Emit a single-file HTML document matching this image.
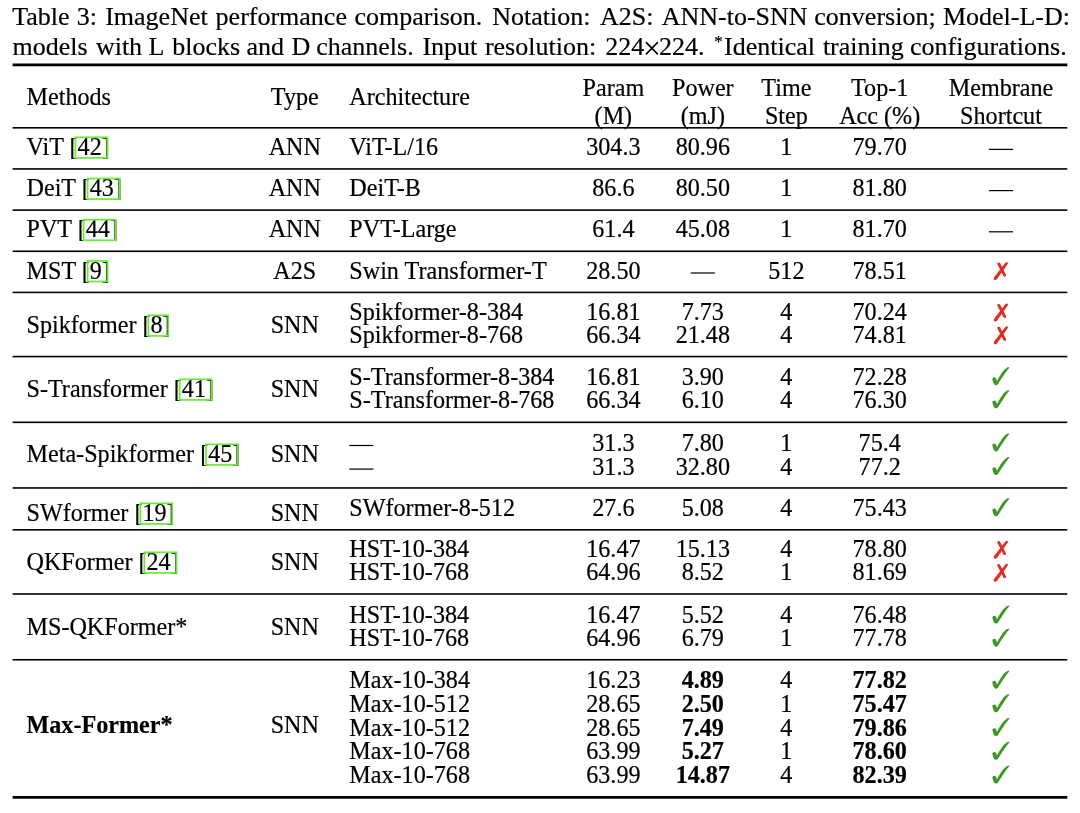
<!DOCTYPE html>
<html><head><meta charset="utf-8"><title>Table 3</title>
<style>
html,body{margin:0;padding:0;background:#fff;}
body{width:1080px;height:813px;position:relative;overflow:hidden;font-family:"Liberation Serif",serif;color:#000;}
.t{position:absolute;white-space:pre;-webkit-text-stroke:0.2px #000;}
.a{font-size:24.15px;line-height:27px;}
.b{font-size:26px;line-height:29px;}
.s{font-size:17px;line-height:19px;}
.m{transform:translateX(-50%);}
.w{font-weight:bold;}
#tx{position:absolute;left:0;top:0;width:1080px;height:813px;will-change:transform;}
#ov{position:absolute;left:0;top:0;}
</style></head><body>
<div id="tx"><span class="t b" style="left:12.20px;top:2px;">Table</span>
<span class="t b" style="left:76.70px;top:2px;">3:</span>
<span class="t b" style="left:105.20px;top:2px;">ImageNet</span>
<span class="t b" style="left:215.60px;top:2px;">performance</span>
<span class="t b" style="left:354.50px;top:2px;">comparison.</span>
<span class="t b" style="left:492.30px;top:2px;">Notation:</span>
<span class="t b" style="left:600.10px;top:2px;">A2S:</span>
<span class="t b" style="left:661.70px;top:2px;">ANN-to-SNN</span>
<span class="t b" style="left:814.30px;top:2px;">conversion;</span>
<span class="t b" style="left:942.90px;top:2px;">Model-L-D:</span>
<span class="t b" style="left:12.50px;top:32px;">models</span>
<span class="t b" style="left:95.90px;top:32px;">with</span>
<span class="t b" style="left:148.50px;top:32px;">L</span>
<span class="t b" style="left:172.30px;top:32px;">blocks</span>
<span class="t b" style="left:246.50px;top:32px;">and</span>
<span class="t b" style="left:291.60px;top:32px;">D</span>
<span class="t b" style="left:316.20px;top:32px;">channels.</span>
<span class="t b" style="left:422.40px;top:32px;">Input</span>
<span class="t b" style="left:484.90px;top:32px;">resolution:</span>
<span class="t b" style="left:605.20px;top:32px;">224</span>
<span class="t b" style="left:659.10px;top:32px;">224.</span>
<span class="t b" style="left:724.00px;top:32px;">Identical</span>
<span class="t b" style="left:822.90px;top:32px;">training</span>
<span class="t b" style="left:910.00px;top:32px;">configurations.</span>
<span class="t s" style="left:714.20px;top:32px;">*</span>
<span class="t a" style="left:26.50px;top:83px;">Methods</span>
<span class="t a m" style="left:294.80px;top:83px;">Type</span>
<span class="t a" style="left:349.30px;top:83px;">Architecture</span>
<span class="t a m" style="left:613.40px;top:74px;">Param</span>
<span class="t a m" style="left:613.40px;top:102px;">(M)</span>
<span class="t a m" style="left:702.80px;top:74px;">Power</span>
<span class="t a m" style="left:702.80px;top:102px;">(mJ)</span>
<span class="t a m" style="left:786.40px;top:74px;">Time</span>
<span class="t a m" style="left:786.40px;top:102px;">Step</span>
<span class="t a m" style="left:879.70px;top:74px;">Top-1</span>
<span class="t a m" style="left:879.70px;top:102px;">Acc (%)</span>
<span class="t a m" style="left:1001.00px;top:74px;">Membrane</span>
<span class="t a m" style="left:1001.00px;top:102px;">Shortcut</span>
<span class="t a" style="left:26.50px;top:133px;">ViT [<span id="c1">42</span>]</span>
<span class="t a m" style="left:294.80px;top:133px;">ANN</span>
<span class="t a" style="left:349.30px;top:133px;">ViT-L/16</span>
<span class="t a m" style="left:613.40px;top:133px;">304.3</span>
<span class="t a m" style="left:702.80px;top:133px;">80.96</span>
<span class="t a m" style="left:786.40px;top:133px;">1</span>
<span class="t a m" style="left:879.70px;top:133px;">79.70</span>
<span class="t a" style="left:26.50px;top:174px;">DeiT [<span id="c2">43</span>]</span>
<span class="t a m" style="left:294.80px;top:174px;">ANN</span>
<span class="t a" style="left:349.30px;top:174px;">DeiT-B</span>
<span class="t a m" style="left:613.40px;top:174px;">86.6</span>
<span class="t a m" style="left:702.80px;top:174px;">80.50</span>
<span class="t a m" style="left:786.40px;top:174px;">1</span>
<span class="t a m" style="left:879.70px;top:174px;">81.80</span>
<span class="t a" style="left:26.50px;top:215px;">PVT [<span id="c3">44</span>]</span>
<span class="t a m" style="left:294.80px;top:215px;">ANN</span>
<span class="t a" style="left:349.30px;top:215px;">PVT-Large</span>
<span class="t a m" style="left:613.40px;top:215px;">61.4</span>
<span class="t a m" style="left:702.80px;top:215px;">45.08</span>
<span class="t a m" style="left:786.40px;top:215px;">1</span>
<span class="t a m" style="left:879.70px;top:215px;">81.70</span>
<span class="t a" style="left:26.50px;top:257px;">MST [<span id="c4">9</span>]</span>
<span class="t a m" style="left:294.80px;top:257px;">A2S</span>
<span class="t a" style="left:349.30px;top:257px;">Swin Transformer-T</span>
<span class="t a m" style="left:613.40px;top:257px;">28.50</span>
<span class="t a m" style="left:786.40px;top:257px;">512</span>
<span class="t a m" style="left:879.70px;top:257px;">78.51</span>
<span class="t a" style="left:26.50px;top:311px;">Spikformer [<span id="c5">8</span>]</span>
<span class="t a m" style="left:294.80px;top:311px;">SNN</span>
<span class="t a" style="left:349.30px;top:298px;">Spikformer-8-384</span>
<span class="t a m" style="left:613.40px;top:298px;">16.81</span>
<span class="t a m" style="left:702.80px;top:298px;">7.73</span>
<span class="t a m" style="left:786.40px;top:298px;">4</span>
<span class="t a m" style="left:879.70px;top:298px;">70.24</span>
<span class="t a" style="left:349.30px;top:321px;">Spikformer-8-768</span>
<span class="t a m" style="left:613.40px;top:321px;">66.34</span>
<span class="t a m" style="left:702.80px;top:321px;">21.48</span>
<span class="t a m" style="left:786.40px;top:321px;">4</span>
<span class="t a m" style="left:879.70px;top:321px;">74.81</span>
<span class="t a" style="left:26.50px;top:375px;">S-Transformer [<span id="c6">41</span>]</span>
<span class="t a m" style="left:294.80px;top:375px;">SNN</span>
<span class="t a" style="left:349.30px;top:363px;">S-Transformer-8-384</span>
<span class="t a m" style="left:613.40px;top:363px;">16.81</span>
<span class="t a m" style="left:702.80px;top:363px;">3.90</span>
<span class="t a m" style="left:786.40px;top:363px;">4</span>
<span class="t a m" style="left:879.70px;top:363px;">72.28</span>
<span class="t a" style="left:349.30px;top:386px;">S-Transformer-8-768</span>
<span class="t a m" style="left:613.40px;top:386px;">66.34</span>
<span class="t a m" style="left:702.80px;top:386px;">6.10</span>
<span class="t a m" style="left:786.40px;top:386px;">4</span>
<span class="t a m" style="left:879.70px;top:386px;">76.30</span>
<span class="t a" style="left:26.50px;top:440px;">Meta-Spikformer [<span id="c7">45</span>]</span>
<span class="t a m" style="left:294.80px;top:440px;">SNN</span>
<span class="t a m" style="left:613.40px;top:429px;">31.3</span>
<span class="t a m" style="left:702.80px;top:429px;">7.80</span>
<span class="t a m" style="left:786.40px;top:429px;">1</span>
<span class="t a m" style="left:879.70px;top:429px;">75.4</span>
<span class="t a m" style="left:613.40px;top:453px;">31.3</span>
<span class="t a m" style="left:702.80px;top:453px;">32.80</span>
<span class="t a m" style="left:786.40px;top:453px;">4</span>
<span class="t a m" style="left:879.70px;top:453px;">77.2</span>
<span class="t a" style="left:26.50px;top:499px;">SWformer [<span id="c8">19</span>]</span>
<span class="t a m" style="left:294.80px;top:499px;">SNN</span>
<span class="t a" style="left:349.30px;top:494px;">SWformer-8-512</span>
<span class="t a m" style="left:613.40px;top:494px;">27.6</span>
<span class="t a m" style="left:702.80px;top:494px;">5.08</span>
<span class="t a m" style="left:786.40px;top:494px;">4</span>
<span class="t a m" style="left:879.70px;top:494px;">75.43</span>
<span class="t a" style="left:26.50px;top:548px;">QKFormer [<span id="c9">24</span>]</span>
<span class="t a m" style="left:294.80px;top:548px;">SNN</span>
<span class="t a" style="left:349.30px;top:535px;">HST-10-384</span>
<span class="t a m" style="left:613.40px;top:535px;">16.47</span>
<span class="t a m" style="left:702.80px;top:535px;">15.13</span>
<span class="t a m" style="left:786.40px;top:535px;">4</span>
<span class="t a m" style="left:879.70px;top:535px;">78.80</span>
<span class="t a" style="left:349.30px;top:558px;">HST-10-768</span>
<span class="t a m" style="left:613.40px;top:558px;">64.96</span>
<span class="t a m" style="left:702.80px;top:558px;">8.52</span>
<span class="t a m" style="left:786.40px;top:558px;">1</span>
<span class="t a m" style="left:879.70px;top:558px;">81.69</span>
<span class="t a" style="left:26.50px;top:613px;">MS-QKFormer*</span>
<span class="t a m" style="left:294.80px;top:613px;">SNN</span>
<span class="t a" style="left:349.30px;top:601px;">HST-10-384</span>
<span class="t a m" style="left:613.40px;top:601px;">16.47</span>
<span class="t a m" style="left:702.80px;top:601px;">5.52</span>
<span class="t a m" style="left:786.40px;top:601px;">4</span>
<span class="t a m" style="left:879.70px;top:601px;">76.48</span>
<span class="t a" style="left:349.30px;top:624px;">HST-10-768</span>
<span class="t a m" style="left:613.40px;top:624px;">64.96</span>
<span class="t a m" style="left:702.80px;top:624px;">6.79</span>
<span class="t a m" style="left:786.40px;top:624px;">1</span>
<span class="t a m" style="left:879.70px;top:624px;">77.78</span>
<span class="t a w" style="left:26.50px;top:711px;">Max-Former*</span>
<span class="t a m" style="left:294.80px;top:711px;">SNN</span>
<span class="t a" style="left:349.30px;top:666px;">Max-10-384</span>
<span class="t a m" style="left:613.40px;top:666px;">16.23</span>
<span class="t a m w" style="left:702.80px;top:666px;">4.89</span>
<span class="t a m" style="left:786.40px;top:666px;">4</span>
<span class="t a m w" style="left:879.70px;top:666px;">77.82</span>
<span class="t a" style="left:349.30px;top:690px;">Max-10-512</span>
<span class="t a m" style="left:613.40px;top:690px;">28.65</span>
<span class="t a m w" style="left:702.80px;top:690px;">2.50</span>
<span class="t a m" style="left:786.40px;top:690px;">1</span>
<span class="t a m w" style="left:879.70px;top:690px;">75.47</span>
<span class="t a" style="left:349.30px;top:714px;">Max-10-512</span>
<span class="t a m" style="left:613.40px;top:714px;">28.65</span>
<span class="t a m w" style="left:702.80px;top:714px;">7.49</span>
<span class="t a m" style="left:786.40px;top:714px;">4</span>
<span class="t a m w" style="left:879.70px;top:714px;">79.86</span>
<span class="t a" style="left:349.30px;top:737px;">Max-10-768</span>
<span class="t a m" style="left:613.40px;top:737px;">63.99</span>
<span class="t a m w" style="left:702.80px;top:737px;">5.27</span>
<span class="t a m" style="left:786.40px;top:737px;">1</span>
<span class="t a m w" style="left:879.70px;top:737px;">78.60</span>
<span class="t a" style="left:349.30px;top:761px;">Max-10-768</span>
<span class="t a m" style="left:613.40px;top:761px;">63.99</span>
<span class="t a m w" style="left:702.80px;top:761px;">14.87</span>
<span class="t a m" style="left:786.40px;top:761px;">4</span>
<span class="t a m w" style="left:879.70px;top:761px;">82.39</span></div>
<svg id="ov" width="1080" height="813" viewBox="0 0 1080 813"><path d="M646.4,42.6 L657.4,53.9 M657.4,42.6 L646.4,53.9" stroke="#000" stroke-width="1.6" stroke-linecap="round" fill="none"/>
<rect x="12.6" y="63.50" width="1054.70" height="2.8" fill="#000"/>
<rect x="12.6" y="127.00" width="1054.70" height="1.6" fill="#000"/>
<rect x="12.6" y="168.13" width="1054.70" height="1.6" fill="#000"/>
<rect x="12.6" y="209.30" width="1054.70" height="1.6" fill="#000"/>
<rect x="12.6" y="250.47" width="1054.70" height="1.6" fill="#000"/>
<rect x="12.6" y="291.62" width="1054.70" height="1.6" fill="#000"/>
<rect x="12.6" y="355.77" width="1054.70" height="1.6" fill="#000"/>
<rect x="12.6" y="421.52" width="1054.70" height="1.6" fill="#000"/>
<rect x="12.6" y="487.15" width="1054.70" height="1.6" fill="#000"/>
<rect x="12.6" y="529.03" width="1054.70" height="1.6" fill="#000"/>
<rect x="12.6" y="593.20" width="1054.70" height="1.6" fill="#000"/>
<rect x="12.6" y="658.96" width="1054.70" height="1.6" fill="#000"/>
<rect x="12.6" y="795.95" width="1054.70" height="2.8" fill="#000"/>
<rect x="988.92" y="148.80" width="24.15" height="1.2" fill="#000"/>
<rect x="988.92" y="190.00" width="24.15" height="1.2" fill="#000"/>
<rect x="988.92" y="231.20" width="24.15" height="1.2" fill="#000"/>
<rect x="690.72" y="272.40" width="24.15" height="1.2" fill="#000"/>
<g transform="translate(988.00,258.10)" fill="#e62c1e"><path d="M19.6,4.4 C19.0,3.8 18.0,4.0 17.4,4.7 L6.3,19.0 C5.6,20.0 5.6,21.2 6.4,21.8 C7.2,22.4 8.4,22.0 9.1,21.0 L19.7,6.0 C20.1,5.4 20.0,4.8 19.6,4.4 Z"/><path d="M10.0,4.6 C9.3,4.9 9.2,5.7 9.5,6.4 L15.3,17.6 C15.8,18.4 16.8,18.8 17.5,18.4 C18.2,18.0 18.2,17.1 17.8,16.3 L12.2,5.2 C11.8,4.4 10.8,4.2 10.0,4.6 Z"/></g>
<g transform="translate(988.00,299.50)" fill="#e62c1e"><path d="M19.6,4.4 C19.0,3.8 18.0,4.0 17.4,4.7 L6.3,19.0 C5.6,20.0 5.6,21.2 6.4,21.8 C7.2,22.4 8.4,22.0 9.1,21.0 L19.7,6.0 C20.1,5.4 20.0,4.8 19.6,4.4 Z"/><path d="M10.0,4.6 C9.3,4.9 9.2,5.7 9.5,6.4 L15.3,17.6 C15.8,18.4 16.8,18.8 17.5,18.4 C18.2,18.0 18.2,17.1 17.8,16.3 L12.2,5.2 C11.8,4.4 10.8,4.2 10.0,4.6 Z"/></g>
<g transform="translate(988.00,322.30)" fill="#e62c1e"><path d="M19.6,4.4 C19.0,3.8 18.0,4.0 17.4,4.7 L6.3,19.0 C5.6,20.0 5.6,21.2 6.4,21.8 C7.2,22.4 8.4,22.0 9.1,21.0 L19.7,6.0 C20.1,5.4 20.0,4.8 19.6,4.4 Z"/><path d="M10.0,4.6 C9.3,4.9 9.2,5.7 9.5,6.4 L15.3,17.6 C15.8,18.4 16.8,18.8 17.5,18.4 C18.2,18.0 18.2,17.1 17.8,16.3 L12.2,5.2 C11.8,4.4 10.8,4.2 10.0,4.6 Z"/></g>
<path transform="translate(988.00,362.00)" fill="#3c9a22" d="M21.5,5.5 C20.6,6.7 17.8,10.2 16.0,12.8 C14.6,14.9 11.6,19.8 10.1,21.9 C9.6,22.7 8.8,23.2 7.8,23.2 C6.8,23.2 6.1,22.2 5.5,20.8 C5.0,19.6 4.4,18.2 4.4,17.2 C4.4,16.0 5.3,15.3 6.4,15.3 C7.4,15.3 8.0,16.2 8.4,17.4 C8.6,18.0 8.8,18.5 9.0,18.9 C10.0,17.0 12.4,13.0 13.8,10.9 C15.2,8.8 17.4,6.4 19.2,5.5 C20.0,5.1 21.0,5.1 21.5,5.5 Z"/>
<path transform="translate(988.00,385.10)" fill="#3c9a22" d="M21.5,5.5 C20.6,6.7 17.8,10.2 16.0,12.8 C14.6,14.9 11.6,19.8 10.1,21.9 C9.6,22.7 8.8,23.2 7.8,23.2 C6.8,23.2 6.1,22.2 5.5,20.8 C5.0,19.6 4.4,18.2 4.4,17.2 C4.4,16.0 5.3,15.3 6.4,15.3 C7.4,15.3 8.0,16.2 8.4,17.4 C8.6,18.0 8.8,18.5 9.0,18.9 C10.0,17.0 12.4,13.0 13.8,10.9 C15.2,8.8 17.4,6.4 19.2,5.5 C20.0,5.1 21.0,5.1 21.5,5.5 Z"/>
<rect x="349.30" y="444.90" width="24.15" height="1.2" fill="#000"/>
<path transform="translate(988.00,428.30)" fill="#3c9a22" d="M21.5,5.5 C20.6,6.7 17.8,10.2 16.0,12.8 C14.6,14.9 11.6,19.8 10.1,21.9 C9.6,22.7 8.8,23.2 7.8,23.2 C6.8,23.2 6.1,22.2 5.5,20.8 C5.0,19.6 4.4,18.2 4.4,17.2 C4.4,16.0 5.3,15.3 6.4,15.3 C7.4,15.3 8.0,16.2 8.4,17.4 C8.6,18.0 8.8,18.5 9.0,18.9 C10.0,17.0 12.4,13.0 13.8,10.9 C15.2,8.8 17.4,6.4 19.2,5.5 C20.0,5.1 21.0,5.1 21.5,5.5 Z"/>
<rect x="349.30" y="468.50" width="24.15" height="1.2" fill="#000"/>
<path transform="translate(988.00,451.90)" fill="#3c9a22" d="M21.5,5.5 C20.6,6.7 17.8,10.2 16.0,12.8 C14.6,14.9 11.6,19.8 10.1,21.9 C9.6,22.7 8.8,23.2 7.8,23.2 C6.8,23.2 6.1,22.2 5.5,20.8 C5.0,19.6 4.4,18.2 4.4,17.2 C4.4,16.0 5.3,15.3 6.4,15.3 C7.4,15.3 8.0,16.2 8.4,17.4 C8.6,18.0 8.8,18.5 9.0,18.9 C10.0,17.0 12.4,13.0 13.8,10.9 C15.2,8.8 17.4,6.4 19.2,5.5 C20.0,5.1 21.0,5.1 21.5,5.5 Z"/>
<path transform="translate(988.00,493.10)" fill="#3c9a22" d="M21.5,5.5 C20.6,6.7 17.8,10.2 16.0,12.8 C14.6,14.9 11.6,19.8 10.1,21.9 C9.6,22.7 8.8,23.2 7.8,23.2 C6.8,23.2 6.1,22.2 5.5,20.8 C5.0,19.6 4.4,18.2 4.4,17.2 C4.4,16.0 5.3,15.3 6.4,15.3 C7.4,15.3 8.0,16.2 8.4,17.4 C8.6,18.0 8.8,18.5 9.0,18.9 C10.0,17.0 12.4,13.0 13.8,10.9 C15.2,8.8 17.4,6.4 19.2,5.5 C20.0,5.1 21.0,5.1 21.5,5.5 Z"/>
<g transform="translate(988.00,536.70)" fill="#e62c1e"><path d="M19.6,4.4 C19.0,3.8 18.0,4.0 17.4,4.7 L6.3,19.0 C5.6,20.0 5.6,21.2 6.4,21.8 C7.2,22.4 8.4,22.0 9.1,21.0 L19.7,6.0 C20.1,5.4 20.0,4.8 19.6,4.4 Z"/><path d="M10.0,4.6 C9.3,4.9 9.2,5.7 9.5,6.4 L15.3,17.6 C15.8,18.4 16.8,18.8 17.5,18.4 C18.2,18.0 18.2,17.1 17.8,16.3 L12.2,5.2 C11.8,4.4 10.8,4.2 10.0,4.6 Z"/></g>
<g transform="translate(988.00,559.70)" fill="#e62c1e"><path d="M19.6,4.4 C19.0,3.8 18.0,4.0 17.4,4.7 L6.3,19.0 C5.6,20.0 5.6,21.2 6.4,21.8 C7.2,22.4 8.4,22.0 9.1,21.0 L19.7,6.0 C20.1,5.4 20.0,4.8 19.6,4.4 Z"/><path d="M10.0,4.6 C9.3,4.9 9.2,5.7 9.5,6.4 L15.3,17.6 C15.8,18.4 16.8,18.8 17.5,18.4 C18.2,18.0 18.2,17.1 17.8,16.3 L12.2,5.2 C11.8,4.4 10.8,4.2 10.0,4.6 Z"/></g>
<path transform="translate(988.00,600.40)" fill="#3c9a22" d="M21.5,5.5 C20.6,6.7 17.8,10.2 16.0,12.8 C14.6,14.9 11.6,19.8 10.1,21.9 C9.6,22.7 8.8,23.2 7.8,23.2 C6.8,23.2 6.1,22.2 5.5,20.8 C5.0,19.6 4.4,18.2 4.4,17.2 C4.4,16.0 5.3,15.3 6.4,15.3 C7.4,15.3 8.0,16.2 8.4,17.4 C8.6,18.0 8.8,18.5 9.0,18.9 C10.0,17.0 12.4,13.0 13.8,10.9 C15.2,8.8 17.4,6.4 19.2,5.5 C20.0,5.1 21.0,5.1 21.5,5.5 Z"/>
<path transform="translate(988.00,623.50)" fill="#3c9a22" d="M21.5,5.5 C20.6,6.7 17.8,10.2 16.0,12.8 C14.6,14.9 11.6,19.8 10.1,21.9 C9.6,22.7 8.8,23.2 7.8,23.2 C6.8,23.2 6.1,22.2 5.5,20.8 C5.0,19.6 4.4,18.2 4.4,17.2 C4.4,16.0 5.3,15.3 6.4,15.3 C7.4,15.3 8.0,16.2 8.4,17.4 C8.6,18.0 8.8,18.5 9.0,18.9 C10.0,17.0 12.4,13.0 13.8,10.9 C15.2,8.8 17.4,6.4 19.2,5.5 C20.0,5.1 21.0,5.1 21.5,5.5 Z"/>
<path transform="translate(988.00,665.50)" fill="#3c9a22" d="M21.5,5.5 C20.6,6.7 17.8,10.2 16.0,12.8 C14.6,14.9 11.6,19.8 10.1,21.9 C9.6,22.7 8.8,23.2 7.8,23.2 C6.8,23.2 6.1,22.2 5.5,20.8 C5.0,19.6 4.4,18.2 4.4,17.2 C4.4,16.0 5.3,15.3 6.4,15.3 C7.4,15.3 8.0,16.2 8.4,17.4 C8.6,18.0 8.8,18.5 9.0,18.9 C10.0,17.0 12.4,13.0 13.8,10.9 C15.2,8.8 17.4,6.4 19.2,5.5 C20.0,5.1 21.0,5.1 21.5,5.5 Z"/>
<path transform="translate(988.00,689.10)" fill="#3c9a22" d="M21.5,5.5 C20.6,6.7 17.8,10.2 16.0,12.8 C14.6,14.9 11.6,19.8 10.1,21.9 C9.6,22.7 8.8,23.2 7.8,23.2 C6.8,23.2 6.1,22.2 5.5,20.8 C5.0,19.6 4.4,18.2 4.4,17.2 C4.4,16.0 5.3,15.3 6.4,15.3 C7.4,15.3 8.0,16.2 8.4,17.4 C8.6,18.0 8.8,18.5 9.0,18.9 C10.0,17.0 12.4,13.0 13.8,10.9 C15.2,8.8 17.4,6.4 19.2,5.5 C20.0,5.1 21.0,5.1 21.5,5.5 Z"/>
<path transform="translate(988.00,712.90)" fill="#3c9a22" d="M21.5,5.5 C20.6,6.7 17.8,10.2 16.0,12.8 C14.6,14.9 11.6,19.8 10.1,21.9 C9.6,22.7 8.8,23.2 7.8,23.2 C6.8,23.2 6.1,22.2 5.5,20.8 C5.0,19.6 4.4,18.2 4.4,17.2 C4.4,16.0 5.3,15.3 6.4,15.3 C7.4,15.3 8.0,16.2 8.4,17.4 C8.6,18.0 8.8,18.5 9.0,18.9 C10.0,17.0 12.4,13.0 13.8,10.9 C15.2,8.8 17.4,6.4 19.2,5.5 C20.0,5.1 21.0,5.1 21.5,5.5 Z"/>
<path transform="translate(988.00,736.65)" fill="#3c9a22" d="M21.5,5.5 C20.6,6.7 17.8,10.2 16.0,12.8 C14.6,14.9 11.6,19.8 10.1,21.9 C9.6,22.7 8.8,23.2 7.8,23.2 C6.8,23.2 6.1,22.2 5.5,20.8 C5.0,19.6 4.4,18.2 4.4,17.2 C4.4,16.0 5.3,15.3 6.4,15.3 C7.4,15.3 8.0,16.2 8.4,17.4 C8.6,18.0 8.8,18.5 9.0,18.9 C10.0,17.0 12.4,13.0 13.8,10.9 C15.2,8.8 17.4,6.4 19.2,5.5 C20.0,5.1 21.0,5.1 21.5,5.5 Z"/>
<path transform="translate(988.00,760.40)" fill="#3c9a22" d="M21.5,5.5 C20.6,6.7 17.8,10.2 16.0,12.8 C14.6,14.9 11.6,19.8 10.1,21.9 C9.6,22.7 8.8,23.2 7.8,23.2 C6.8,23.2 6.1,22.2 5.5,20.8 C5.0,19.6 4.4,18.2 4.4,17.2 C4.4,16.0 5.3,15.3 6.4,15.3 C7.4,15.3 8.0,16.2 8.4,17.4 C8.6,18.0 8.8,18.5 9.0,18.9 C10.0,17.0 12.4,13.0 13.8,10.9 C15.2,8.8 17.4,6.4 19.2,5.5 C20.0,5.1 21.0,5.1 21.5,5.5 Z"/>
<rect x="75.38" y="137.30" width="31.94" height="20.60" fill="none" stroke="#66ee33" stroke-width="1.7"/>
<rect x="87.55" y="178.50" width="31.94" height="20.60" fill="none" stroke="#66ee33" stroke-width="1.7"/>
<rect x="83.55" y="219.70" width="31.94" height="20.60" fill="none" stroke="#66ee33" stroke-width="1.7"/>
<rect x="87.58" y="260.90" width="19.88" height="20.60" fill="none" stroke="#66ee33" stroke-width="1.7"/>
<rect x="148.33" y="315.30" width="19.88" height="20.60" fill="none" stroke="#66ee33" stroke-width="1.7"/>
<rect x="179.64" y="379.30" width="31.94" height="20.60" fill="none" stroke="#66ee33" stroke-width="1.7"/>
<rect x="205.97" y="444.30" width="31.94" height="20.60" fill="none" stroke="#66ee33" stroke-width="1.7"/>
<rect x="140.27" y="503.30" width="31.94" height="20.60" fill="none" stroke="#66ee33" stroke-width="1.7"/>
<rect x="144.32" y="552.30" width="31.94" height="20.60" fill="none" stroke="#66ee33" stroke-width="1.7"/></svg>
</body></html>
